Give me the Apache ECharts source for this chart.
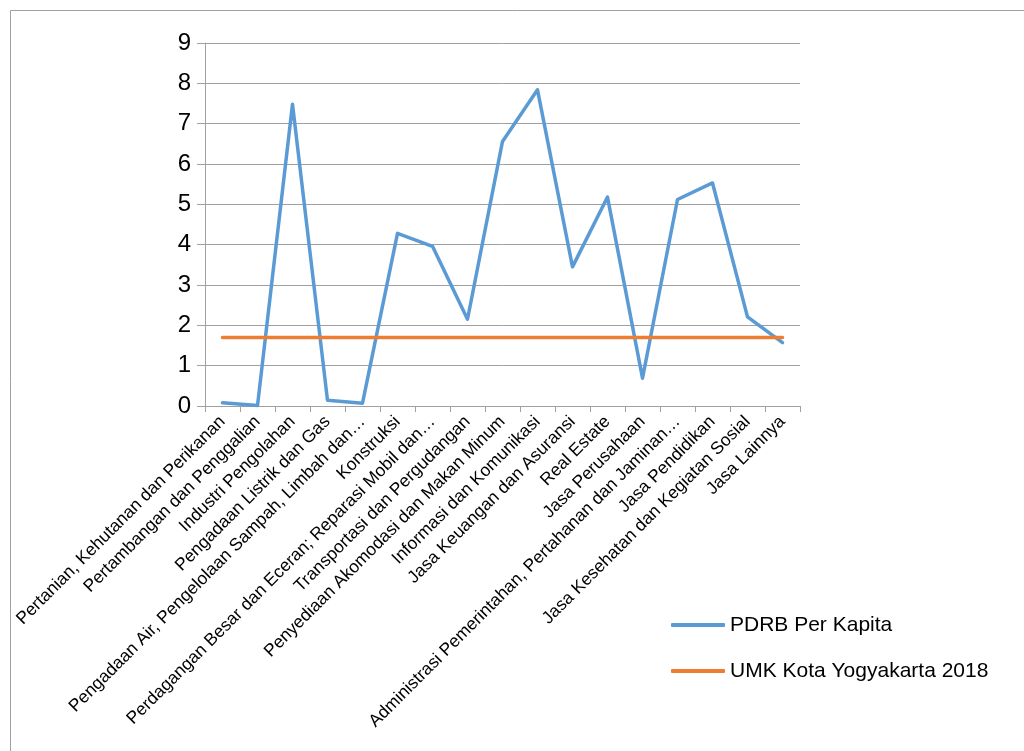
<!DOCTYPE html>
<html>
<head>
<meta charset="utf-8">
<script src="https://cdn.jsdelivr.net/npm/echarts@6/dist/echarts.min.js"></script>
<style>
html,body{margin:0;padding:0;background:#fff;}
#c{width:1024px;height:751px;}
</style>
</head>
<body>
<div id="c"></div>
<script>
const categories = [
  "Pertanian, Kehutanan dan Perikanan",
  "Pertambangan dan Penggalian",
  "Industri Pengolahan",
  "Pengadaan Listrik dan Gas",
  "Pengadaan Air, Pengelolaan Sampah, Limbah dan…",
  "Konstruksi",
  "Perdagangan Besar dan Eceran; Reparasi Mobil dan…",
  "Transportasi dan Pergudangan",
  "Penyediaan Akomodasi dan Makan Minum",
  "Informasi dan Komunikasi",
  "Jasa Keuangan dan Asuransi",
  "Real Estate",
  "Jasa Perusahaan",
  "Administrasi Pemerintahan, Pertahanan dan Jaminan…",
  "Jasa Pendidikan",
  "Jasa Kesehatan dan Kegiatan Sosial",
  "Jasa Lainnya"
];
const pdrbPerKapita = [0.08, 0.01, 7.48, 0.14, 0.07, 4.28, 3.96, 2.15, 6.56, 7.84, 3.45, 5.18, 0.69, 5.12, 5.53, 2.21, 1.57];
const umk2018 = [1.7, 1.7, 1.7, 1.7, 1.7, 1.7, 1.7, 1.7, 1.7, 1.7, 1.7, 1.7, 1.7, 1.7, 1.7, 1.7, 1.7];
const seriesNames = ["PDRB Per Kapita", "UMK Kota Yogyakarta 2018"];

const chart = echarts.init(document.getElementById('c'), null, {renderer: 'canvas'});
const FONT = "'Liberation Sans', Arial, sans-serif";
chart.setOption({
  animation: false,
  backgroundColor: '#ffffff',
  graphic: [{
    type: 'rect', silent: true,
    shape: {x: 10.5, y: 10.5, width: 1100, height: 1000},
    style: {fill: 'none', stroke: '#a0a0a0', lineWidth: 1}
  }],
  grid: {left: 205, right: 224, top: 43, bottom: 345, containLabel: false},
  legend: {
    orient: 'vertical', left: 671, top: 613, padding: 0,
    icon: 'roundRect', itemWidth: 54, itemHeight: 4, itemGap: 22,
    textStyle: {fontFamily: FONT, fontSize: 21, color: '#000', lineHeight: 24},
    data: seriesNames
  },
  xAxis: {
    type: 'category', data: categories, boundaryGap: true,
    axisLine: {lineStyle: {color: '#a0a0a0', width: 1}},
    axisTick: {show: true, length: 6, interval: 0, alignWithLabel: false, lineStyle: {color: '#a0a0a0'}},
    axisLabel: {interval: 0, rotate: 45, fontFamily: FONT, fontSize: 17.5, color: '#000', margin: 13}
  },
  yAxis: {
    type: 'value', min: 0, max: 9, interval: 1,
    axisLine: {show: true, lineStyle: {color: '#a0a0a0', width: 1}},
    axisTick: {show: true, length: 8, lineStyle: {color: '#a0a0a0'}},
    axisLabel: {fontFamily: FONT, fontSize: 24, color: '#000', margin: 14},
    splitLine: {show: true, lineStyle: {color: '#a0a0a0', width: 1}}
  },
  series: [
    {name: seriesNames[0], type: 'line', data: pdrbPerKapita, showSymbol: false, symbol: 'none',
     lineStyle: {color: '#5b9bd5', width: 3.5, cap: 'round', join: 'round'}, itemStyle: {color: '#5b9bd5'}},
    {name: seriesNames[1], type: 'line', data: umk2018, showSymbol: false, symbol: 'none',
     lineStyle: {color: '#ed7d31', width: 3.5, cap: 'round'}, itemStyle: {color: '#ed7d31'}}
  ]
});
</script>
</body>
</html>
